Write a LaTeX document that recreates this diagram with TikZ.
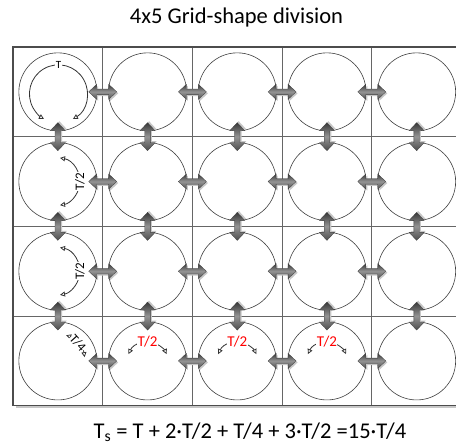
\documentclass[tikz,border=0pt]{standalone}
\usepackage{fontspec}
\setmainfont{Carlito}
\usetikzlibrary{arrows.meta,calc}
\begin{document}
\begin{tikzpicture}[x=1pt,y=-1pt,
  cell/.style={circle,draw=black!75,line width=0.6pt,minimum size=78pt,inner sep=0pt},
  blkarrow/.pic={
    \fill[black!22] (-12.5,1.5) -- (-4.5,-6) -- (-4.5,-1.3) -- (7.5,-1.3) -- (7.5,-6)
      -- (15.5,1.5) -- (7.5,9) -- (7.5,4.3) -- (-4.5,4.3) -- (-4.5,9) -- cycle;
    \draw[draw=black!75,line width=0.3pt,top color=black!78,bottom color=black!70,middle color=black!42]
      (-14,0) -- (-6,-7.5) -- (-6,-2.8) -- (6,-2.8) -- (6,-7.5)
      -- (14,0) -- (6,7.5) -- (6,2.8) -- (-6,2.8) -- (-6,7.5) -- cycle;
  },
  cyc/.style={draw=black!80,line width=0.8pt,
    {Triangle[open,length=5pt,width=5pt]}-{Triangle[open,length=5pt,width=5pt]}},
  lbl/.style={fill=white,inner sep=0.5pt,font=\fontsize{13}{13}\selectfont},
  rlbl/.style={lbl,text=red,font=\fontsize{15}{15}\selectfont},
  ttl/.style={font=\fontsize{22.5}{26}\selectfont,anchor=base},
  gridline/.style={draw=black!60,line width=1.1pt}
]
\useasboundingbox (0,0) rectangle (456,446);
\clip (0,0) rectangle (456,446);
% frame shadow and grid
\fill[black!22] (15.5,49.5) rectangle (464,408.3);
\fill[white] (13,47) rectangle (461.5,405.8);
\foreach \i in {1,...,4} {
  \draw[gridline] ({13+89.7*\i},47) -- ({13+89.7*\i},405.8);
}
\foreach \j in {1,...,3} {
  \draw[gridline] (13,{47+89.7*\j}) -- (461.5,{47+89.7*\j});
}
\draw[gridline,draw=black!70] (13,47) rectangle (461.5,405.8);
% circles
\foreach \r in {1,...,4} {
  \foreach \c in {1,...,5} {
    \node[cell] (c\r\c) at ({57.85+89.7*(\c-1)},{91.85+89.7*(\r-1)}) {};
  }
}
% horizontal block arrows
\foreach \r in {1,...,4} {
  \foreach \c/\d in {1/2,2/3,3/4,4/5} {
    \pic (h\r\c) at ($(c\r\c.east)!0.5!(c\r\d.west)$) {blkarrow};
  }
}
% vertical block arrows
\foreach \r/\s in {1/2,2/3,3/4} {
  \foreach \c in {1,...,5} {
    \pic[rotate=90] (v\r\c) at ($(c\r\c.south)!0.5!(c\s\c.north)$) {blkarrow};
  }
}
% cycle T
\draw[cyc] ($(c11.center)+(0.6,2)$) ++(60:29) arc[start angle=60,end angle=-240,radius=29];
\node[lbl,font=\fontsize{11}{11}\selectfont] (lT) at ($(c11.center)+(0.6,-27)$) {T};
% cycles T/2 in first column
\foreach \r in {2,3} {
  \draw[cyc] ($(c\r1.center)+(-2,0)$) ++(-80:24) arc[start angle=-80,end angle=80,radius=24];
  \node[lbl,rotate=90] (lh\r) at ($(c\r1.center)+(22,0)$) {T/2};
}
% cycle T/4
\draw[cyc] (c41.center) ++(-72:27) arc[start angle=-72,end angle=-8,radius=27];
\node[lbl,rotate=-48] (lq) at ($(c41.center)+(-42:27)$) {T/4};
% red cycles
\foreach \c in {2,3,4} {
  \draw[cyc] ($(c4\c.center)+(0,2)$) ++(-155:21) arc[start angle=-155,end angle=-25,radius=21];
  \node[rlbl] (lr\c) at ($(c4\c.center)+(0,-19)$) {T/2};
}
% texts
\node[ttl] (title) at (236.5,23.3) {4x5 Grid-shape division};
\node[ttl] (formula) at (250,438.3) {T\textsubscript{s} = T + 2·T/2 + T/4 + 3·T/2 =15·T/4};
\end{tikzpicture}
\end{document}
